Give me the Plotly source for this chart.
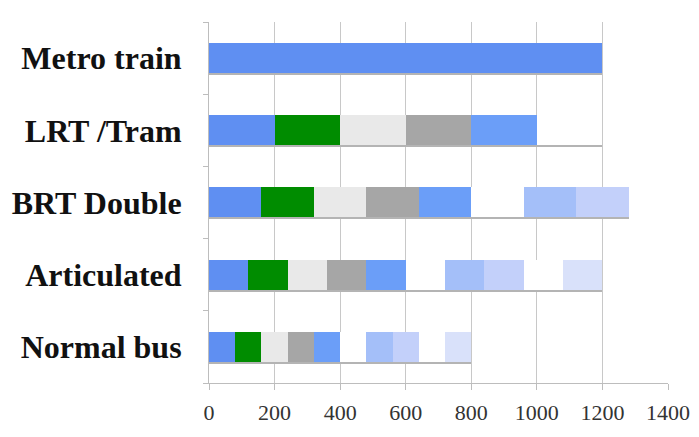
import plotly.graph_objects as go

categories = ["Normal bus", "Articulated", "BRT Double", "LRT /Tram", "Metro train"]

seg1 = [80, 120, 160, 200, 1200]
seg2 = [80, 120, 160, 200, 0]
seg3 = [80, 120, 160, 200, 0]
seg4 = [80, 120, 160, 200, 0]
seg5 = [80, 120, 160, 200, 0]
seg6 = [80, 120, 160, 200, 0]
seg7 = [80, 120, 160, 0, 0]
seg8 = [80, 120, 160, 0, 0]
seg9 = [80, 120, 0, 0, 0]
seg10 = [80, 120, 0, 0, 0]

x_ticks = [0, 200, 400, 600, 800, 1000, 1200, 1400]

segments = [seg1, seg2, seg3, seg4, seg5, seg6, seg7, seg8, seg9, seg10]
colors = ["#5f8ff2", "#008c00", "#e9e9e9", "#a6a6a6", "#6b9ef8",
          "#ffffff", "#a4bff9", "#c3d0fa", "#ffffff", "#d9e1fa"]

totals = [sum(s[i] for s in segments) for i in range(len(categories))]

fig = go.Figure()
for i, (vals, col) in enumerate(zip(segments, colors)):
    fig.add_trace(go.Bar(
        y=categories, x=vals, orientation="h", width=0.42,
        marker=dict(color=col, line=dict(width=0)),
        name=f"s{i+1}", showlegend=False,
    ))

# thin grey base edge under each bar (the original's bar shadow)
fig.add_trace(go.Bar(
    y=categories, x=totals, orientation="h", width=0.018, offset=-0.228,
    marker=dict(color="#b4b4b4", line=dict(width=0)),
    yaxis="y2", showlegend=False, name="edge",
))

fig.update_layout(
    barmode="stack",
    width=691, height=429,
    margin=dict(l=201, r=31, t=14, b=54),
    paper_bgcolor="white", plot_bgcolor="white",
    font=dict(family="Liberation Serif", color="#333"),
    yaxis2=dict(overlaying="y", visible=False, range=[-0.5, 4.5],
                categoryorder="array", categoryarray=categories),
)
fig.update_xaxes(
    range=[0, 1400], tickvals=x_ticks, ticktext=[str(v) for v in x_ticks],
    showgrid=True, gridcolor="#c8c8c8", gridwidth=1,
    showline=True, linecolor="#bdbdbd", linewidth=1,
    ticks="outside", ticklen=6, tickcolor="#bdbdbd",
    tickfont=dict(family="Liberation Serif", size=22, color="#333"),
    zeroline=False, automargin=False, ticklabelstandoff=4,
)
fig.update_layout(yaxis=dict(
    categoryorder="array", categoryarray=categories,
    range=[-0.5, 4.5],
    showgrid=False,
    showline=True, linecolor="#bdbdbd", linewidth=1,
    ticks="outside", ticklen=5, tickcolor="#bdbdbd", tickson="boundaries",
    tickfont=dict(family="Liberation Serif", size=32, color="#111"),
    ticklabelstandoff=20, automargin=False,
    tickvals=categories, ticktext=[f"<b>{c}</b>" for c in categories],
))

fig.write_html("out.html")
